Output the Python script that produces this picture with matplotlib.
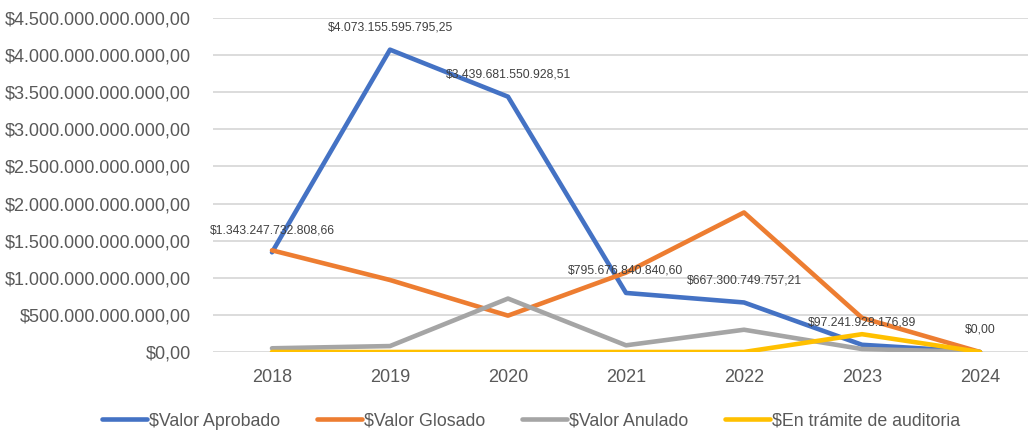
import matplotlib
matplotlib.use("Agg")
import matplotlib.pyplot as plt
from matplotlib.ticker import FuncFormatter, MultipleLocator

years = ["2018", "2019", "2020", "2021", "2022", "2023", "2024"]
valor_aprobado = [1343247732808.66, 4073155595795.25, 3439681550928.51,
                  795676840840.60, 667300749757.21, 97241928176.89, 0.00]
valor_glosado = [1.37e12, 0.97e12, 0.49e12, 1.07e12, 1.88e12, 0.46e12, 0.0]
valor_anulado = [0.05e12, 0.08e12, 0.72e12, 0.09e12, 0.30e12, 0.04e12, 0.0]
en_tramite = [0.0, 0.0, 0.0, 0.0, 0.0, 0.24e12, 0.0]
series_names = ["$Valor Aprobado", "$Valor Glosado", "$Valor Anulado",
                "$En trámite de auditoria"]

plt.rcParams['font.family'] = ['Liberation Sans', 'DejaVu Sans']


def fmt_money(v, pos=None):
    s = f"{v:,.2f}"
    s = s.replace(",", "X").replace(".", ",").replace("X", ".")
    return "$" + s


fig = plt.figure(figsize=(10.28, 4.33), dpi=100)
ax = fig.add_axes([213 / 1028, 81 / 433, 826 / 1028, 334 / 433])

x = list(range(len(years)))
colors = ["#4472C4", "#ED7D31", "#A5A5A5", "#FFC000"]
all_series = [valor_aprobado, valor_glosado, valor_anulado, en_tramite]
for data, c, name in zip(all_series, colors, series_names):
    ax.plot(x, data, color=c, lw=3.3, label=name, solid_capstyle='round',
            solid_joinstyle='round', zorder=3)

for xi, v in zip(x, valor_aprobado):
    ax.annotate(fmt_money(v), (xi, v), xytext=(0, 16), textcoords='offset points',
                ha='center', va='center', fontsize=8.7, color='#404040', zorder=5)

ax.set_xlim(-0.5, 6.5)
ax.set_ylim(0, 4.5e12)
ax.yaxis.set_major_locator(MultipleLocator(0.5e12))
ax.yaxis.set_major_formatter(FuncFormatter(fmt_money))
ax.set_xticks(x)
ax.set_xticklabels(years)
ax.grid(axis='y', color='#D9D9D9', lw=1.3, zorder=0)
for s in ax.spines.values():
    s.set_visible(False)
ax.tick_params(axis='both', length=0, labelsize=13, colors='#595959')
ax.tick_params(axis='y', pad=16)
ax.tick_params(axis='x', pad=12)

fig.legend(loc='center', ncol=4, frameon=False, fontsize=12.8,
           bbox_to_anchor=(0.5165, 12 / 433), handlelength=2.53, handletextpad=0.1,
           columnspacing=2.08, labelcolor='#595959')

fig.savefig("out.png", dpi=100)
